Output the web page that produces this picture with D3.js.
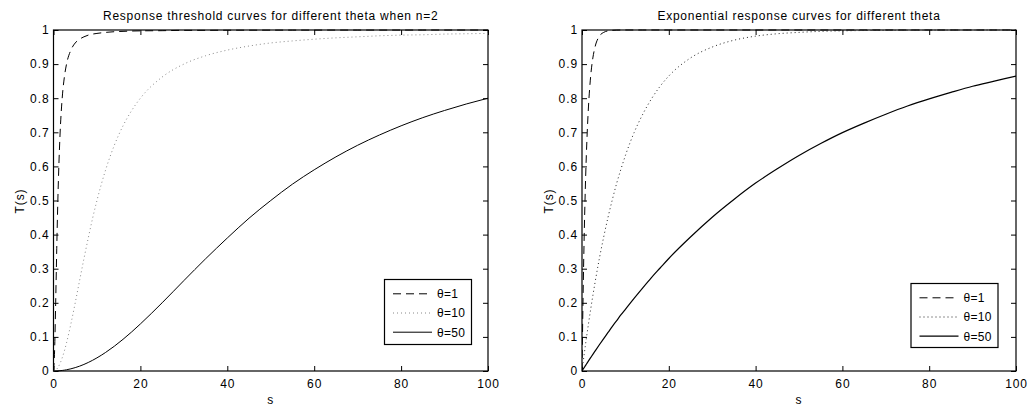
<!DOCTYPE html>
<html><head><meta charset="utf-8">
<script src="https://cdn.jsdelivr.net/npm/d3@7"></script>
<style>
body{margin:0;background:#fff;}
svg text{font-family:"Liberation Sans",Arial,Helvetica,sans-serif;fill:#000;letter-spacing:0.9px;}
</style></head>
<body><svg id="c" width="1029" height="408"></svg>
<script>
// sample points along s
const sVals = [0,0.25,0.5,0.75,1,1.5,2,2.5,3,4,5,6,7,8,9,10,12,14,16,18,20,25,30,35,40,45,50,55,60,65,70,75,80,85,90,95,100];
// Left panel: response threshold curves (n=2)
const thrTheta1  = [0,0.059,0.2,0.36,0.5,0.692,0.8,0.862,0.9,0.941,0.962,0.973,0.98,0.985,0.988,0.99,0.993,0.995,0.996,0.997,0.9975,0.998,0.999,0.999,0.9994,0.9995,0.9996,0.9997,0.9997,0.9998,0.9998,0.9998,0.9998,0.9999,0.9999,0.9999,0.9999];
const thrTheta10 = [0,0.0006,0.0025,0.0056,0.0099,0.022,0.0385,0.0588,0.0826,0.138,0.2,0.265,0.329,0.39,0.448,0.5,0.59,0.662,0.719,0.764,0.8,0.862,0.9,0.9245,0.941,0.953,0.962,0.968,0.973,0.977,0.98,0.983,0.985,0.986,0.988,0.989,0.99];
const thrTheta50 = [0,0.00003,0.0001,0.0002,0.0004,0.0009,0.0016,0.0025,0.0036,0.0064,0.0099,0.0142,0.0192,0.025,0.0314,0.0385,0.0545,0.0727,0.0929,0.1147,0.138,0.2,0.265,0.329,0.39,0.448,0.5,0.548,0.59,0.628,0.662,0.692,0.719,0.743,0.764,0.783,0.8];
// Right panel: exponential response curves
const expTheta1  = [0,0.221,0.393,0.528,0.632,0.777,0.865,0.918,0.95,0.982,0.993,0.9975,0.999,0.9997,0.9999,1,1,1,1,1,1,1,1,1,1,1,1,1,1,1,1,1,1,1,1,1,1];
const expTheta10 = [0,0.0247,0.0488,0.0723,0.0952,0.139,0.181,0.221,0.259,0.33,0.393,0.451,0.503,0.551,0.593,0.632,0.699,0.753,0.798,0.835,0.865,0.918,0.95,0.97,0.982,0.989,0.993,0.996,0.9975,0.9985,0.999,0.9994,0.9997,0.9998,0.9999,0.9999,1];
const expTheta50 = [0,0.005,0.00995,0.0149,0.0198,0.0296,0.0392,0.0488,0.0582,0.0769,0.0952,0.113,0.131,0.148,0.165,0.181,0.213,0.244,0.274,0.302,0.33,0.393,0.451,0.503,0.551,0.593,0.632,0.667,0.699,0.727,0.753,0.777,0.798,0.817,0.835,0.85,0.865];

const xTicks = [0,20,40,60,80,100];
const yTicks = [0,0.1,0.2,0.3,0.4,0.5,0.6,0.7,0.8,0.9,1];
const legendLabels = ["θ=1","θ=10","θ=50"];
const titles = ["Response threshold curves for different theta when n=2","Exponential response curves for different theta"];

const svg = d3.select("#c");
const FS = 12;

function panel(cfg){
  const x = d3.scaleLinear().domain([0,100]).range([cfg.x0, cfg.x1]);
  const y = d3.scaleLinear().domain([0,1]).range([371, 30]);
  const g = svg.append("g");
  const T = 5;
  const bx = g.append("g").attr("transform","translate(0,371)")
    .call(d3.axisBottom(x).tickValues(xTicks).tickSizeInner(-T).tickSizeOuter(0).tickPadding(8.5).tickFormat(d3.format("d")));
  const tx = g.append("g").attr("transform","translate(0,30)")
    .call(d3.axisTop(x).tickValues(xTicks).tickSizeInner(-T).tickSizeOuter(0).tickFormat(""));
  const ly = g.append("g").attr("transform",`translate(${cfg.x0},0)`)
    .call(d3.axisLeft(y).tickValues(yTicks).tickSizeInner(-T).tickSizeOuter(0).tickPadding(4).tickFormat(d=>String(+d.toFixed(1))));
  const ry = g.append("g").attr("transform",`translate(${cfg.x1},0)`)
    .call(d3.axisRight(y).tickValues(yTicks).tickSizeInner(-T).tickSizeOuter(0).tickFormat(""));
  [bx,tx,ly,ry].forEach(a=>{
    a.select(".domain").remove();
    a.selectAll("line").attr("stroke","#000");
    a.selectAll("text").attr("font-size",FS).style("font-family","Liberation Sans, Arial, sans-serif");
  });
  g.append("rect").attr("x",cfg.x0).attr("y",30).attr("width",cfg.x1-cfg.x0).attr("height",341)
    .attr("fill","none").attr("stroke","#000").attr("stroke-width",1.2);
  g.append("text").attr("x",(cfg.x0+cfg.x1)/2).attr("y",20).attr("text-anchor","middle").attr("font-size",FS).style("letter-spacing","0.75px").text(cfg.title);
  g.append("text").attr("x",(cfg.x0+cfg.x1)/2).attr("y",404).attr("text-anchor","middle").attr("font-size",FS).text("s");
  g.append("text").attr("transform",`translate(${cfg.x0-29.5},201) rotate(-90)`).attr("text-anchor","middle").attr("font-size",FS).text("T(s)");
  const line = d3.line().x((d,i)=>x(sVals[i])).y(d=>y(d)).curve(d3.curveMonotoneX);
  const clipId = "clip"+cfg.id;
  svg.append("clipPath").attr("id",clipId).append("rect").attr("x",cfg.x0).attr("y",28).attr("width",cfg.x1-cfg.x0).attr("height",344);
  const styles = cfg.styles;
  cfg.series.forEach((s,k)=>{
    g.append("path").attr("d",line(s)).attr("fill","none").attr("clip-path",`url(#${clipId})`)
      .attr("stroke",styles[k].color).attr("stroke-width",styles[k].w).attr("stroke-dasharray",styles[k].dash);
  });
  const L = cfg.legend;
  g.append("rect").attr("x",L.x).attr("y",L.y).attr("width",L.w).attr("height",L.h)
    .attr("fill","#fff").attr("stroke","#000").attr("stroke-width",1.2);
  legendLabels.forEach((lab,k)=>{
    const yy = L.y + 14.3 + k*19.2;
    g.append("line").attr("x1",L.x+8.5).attr("x2",L.x+47.5).attr("y1",yy).attr("y2",yy)
      .attr("stroke",styles[k].color).attr("stroke-width",styles[k].w).attr("stroke-dasharray",styles[k].dash);
    g.append("text").attr("x",L.x+52.5).attr("y",yy+4.3).attr("font-size",FS).style("letter-spacing","0.3px").text(lab);
  });
}

panel({id:1, x0:53.5, x1:488, title:titles[0], series:[thrTheta1,thrTheta10,thrTheta50],
  styles:[{color:"#000",w:1,dash:"8,5"},{color:"#888",w:1,dash:"1,3"},{color:"#000",w:1,dash:null}],
  legend:{x:384.5,y:279.5,w:87,h:65}});
panel({id:2, x0:582, x1:1016, title:titles[1], series:[expTheta1,expTheta10,expTheta50],
  styles:[{color:"#000",w:1,dash:"8,5"},{color:"#222",w:1,dash:"1,3"},{color:"#000",w:1.2,dash:null}],
  legend:{x:911,y:283.5,w:87,h:64}});
</script></body></html>
